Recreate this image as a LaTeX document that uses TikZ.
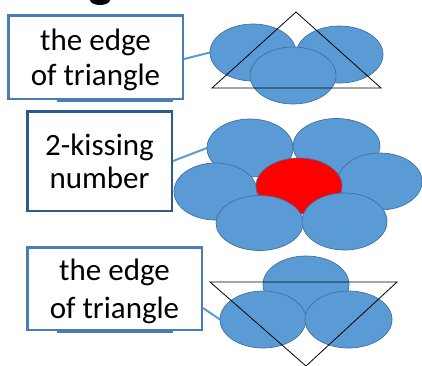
\documentclass[tikz,border=0pt]{standalone}
\usepackage{fontspec}
\setmainfont{Carlito}
\usetikzlibrary{shapes.geometric}
\definecolor{efill}{HTML}{5B9BD5}
\definecolor{eline}{HTML}{41719C}
\definecolor{boxa}{HTML}{4A7DB5}
\definecolor{boxb}{HTML}{2C5A8A}
\definecolor{conn}{HTML}{5B9BD5}
\tikzset{
  blob/.style={ellipse, draw=eline, fill=efill, line width=0.7pt, inner sep=0pt},
  redblob/.style={ellipse, draw=eline, fill=red, line width=0.7pt, inner sep=0pt},
  labelbox/.style={rectangle, draw=#1, fill=white, line width=2.5pt, inner sep=0pt},
  lbl/.style={inner sep=0pt, anchor=base, font=\fontsize{31}{35}\selectfont},
  connline/.style={draw=conn, line width=2pt},
  tri/.style={draw=black, line width=0.8pt},
}
\begin{document}
\begin{tikzpicture}[x=1pt,y=-1pt]
\useasboundingbox (0,0) rectangle (422,365);
\clip (0,0) rectangle (422,365);
% cut-off fragment of a title glyph at the top edge
\fill[black] (100,0) ellipse [x radius=10, y radius=5];

% ---------- group 1 ----------
\node[labelbox=boxa, minimum width=174.5pt, minimum height=83.5pt] (b1) at (95.5,57) {};
\draw[boxa, line width=1.5pt] (57,100.8) -- (173,100.8);
\node[lbl] (b1a) at (95.5,50) {the edge};
\node[lbl] (b1b) at (95.5,85) {of triangle};
\coordinate (t1lw) at (210,52.5);
\draw[connline] ([yshift=-2pt]b1.east) -- (t1lw);
\node[blob, minimum width=86pt, minimum height=57pt] (t1l) at (253,52.5) {};
\node[blob, minimum width=87pt, minimum height=57pt] (t1r) at (339.5,54.5) {};
\node[blob, minimum width=86pt, minimum height=57pt] (t1m) at (293,75.5) {};
\coordinate (A1) at (296,12);
\coordinate (B1) at (212,88);
\coordinate (C1) at (381,88);
\draw[tri] (A1) -- (B1) -- (C1) -- cycle;

% ---------- group 2 ----------
\node[labelbox=boxb, minimum width=144.5pt, minimum height=99.5pt] (b2) at (99.5,161) {};
\node[lbl] (b2a) at (99.5,155) {2-kissing};
\node[lbl] (b2b) at (99.5,188) {number};
\coordinate (ftlw) at (207,148);
\draw[connline] (b2.east) -- (ftlw);
\node[blob, minimum width=86pt, minimum height=58pt] (ftl) at (250,148) {};
\node[blob, minimum width=87pt, minimum height=55pt] (ftr) at (336.5,146) {};
\node[blob, minimum width=84pt, minimum height=57pt] (fr) at (380,181.5) {};
\node[blob, minimum width=83pt, minimum height=57pt] (fl) at (215.5,191.5) {};
\node[redblob, minimum width=86pt, minimum height=56pt] (fc) at (299,186) {};
\node[blob, minimum width=87pt, minimum height=55pt] (fbl) at (259.5,223) {};
\node[blob, minimum width=85pt, minimum height=57pt] (fbr) at (344.5,221.5) {};

% ---------- group 3 ----------
\node[labelbox=boxa, minimum width=174.5pt, minimum height=82.5pt] (b3) at (114.5,288.5) {};
\draw[boxa, line width=1.5pt] (57,332) -- (173,332);
\node[lbl] (b3a) at (114.5,280) {the edge};
\node[lbl] (b3b) at (114.5,318) {of triangle};
\coordinate (t3lw) at (220,319.5);
\draw[connline] ([yshift=-19.5pt]b3.east) -- (t3lw);
\node[blob, minimum width=86pt, minimum height=57pt] (t3t) at (306,284.5) {};
\node[blob, minimum width=86pt, minimum height=57pt] (t3l) at (263,319.5) {};
\node[blob, minimum width=87pt, minimum height=57pt] (t3r) at (348.5,319.5) {};
\coordinate (A3) at (210,282);
\coordinate (B3) at (397,282);
\coordinate (C3) at (306,366);
\draw[tri] (A3) -- (B3) -- (C3) -- cycle;
\end{tikzpicture}
\end{document}
